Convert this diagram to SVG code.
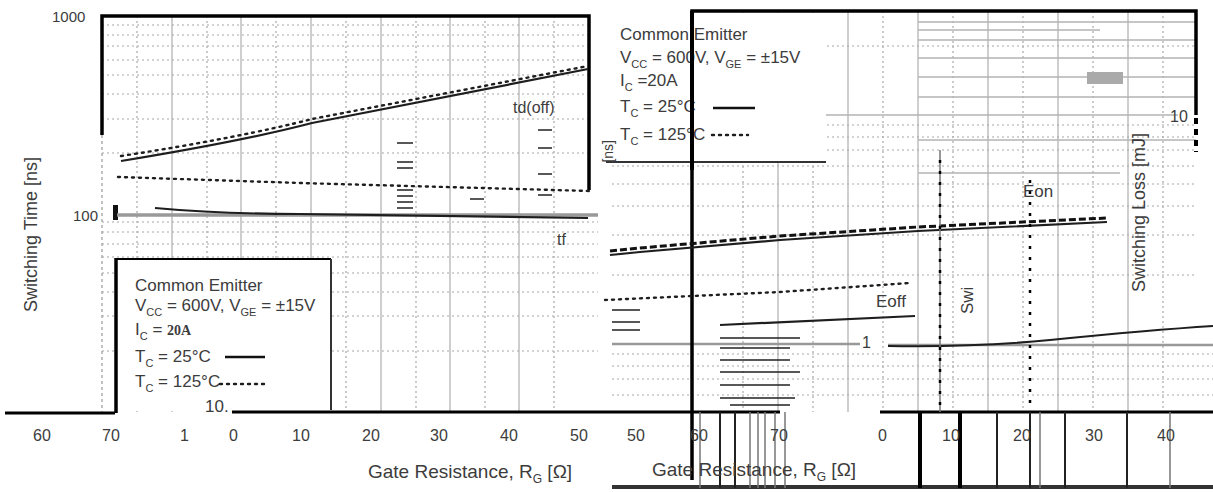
<svg xmlns="http://www.w3.org/2000/svg" width="1213" height="492" viewBox="0 0 1213 492">
<style>
.t{font-family:"Liberation Sans",Arial,sans-serif;fill:#3c3c3c}
.lg{font-size:17px}
.g{stroke:#b4b4b4;stroke-width:1.3;fill:none}
.gd{stroke:#a8a8a8;stroke-width:1.2;stroke-dasharray:2 3;fill:none}
.fr{stroke:#000;stroke-width:3.5;fill:none}
.cv{stroke:#1e1e1e;stroke-width:2.2;fill:none}
.dt{stroke:#1e1e1e;stroke-width:2.4;stroke-dasharray:2 5;stroke-linecap:round;fill:none}
.dsh{stroke:#111;stroke-width:3;stroke-dasharray:7 3;fill:none}
.nz{stroke:#222;stroke-width:1.5}
.gl{stroke:#777;stroke-width:1.5}
</style>
<rect width="1213" height="492" fill="#fff"/>

<!-- LEFT CHART GRID -->
<g id="left-grid">
<path class="g" d="M172 16V412M241 16V412M311 16V412M381 16V412M450 16V412M519 16V412"/>
<path class="gd" d="M137 16V412M207 16V412M276 16V412M346 16V412M416 16V412M485 16V412M554 16V412"/>
<path class="gd" d="M102 25H588M102 35H588M102 46H588M102 60H588M102 75H588M102 94H588M102 119H588M102 153H588M102 222H598M102 232H598M102 244H598M102 257H598M102 273H598M102 292H598M102 316H598M102 351H598"/>
<line x1="102" y1="135" x2="102" y2="412" stroke="#999" stroke-width="1.2" stroke-dasharray="3 3"/>
</g>

<!-- RIGHT CHART GRID -->
<g id="right-grid">
<path class="g" d="M778 11V412M848 11V412M918 11V412M988 11V412M1058 11V412M1128 11V412"/>
<path class="gd" d="M743 11V412M813 11V412M883 11V412M953 11V412M1023 11V412M1093 11V412M1163 11V412"/>
<path class="gd" d="M692 46H1196M692 125H1196M692 137H1196M692 150H1196M612 166H1196M612 184H1196M612 206H1196M612 235H1196M612 275H1196M612 354H1213M612 366H1213M612 379H1213M612 395H1213"/>
<path class="g" d="M918 22H1196M918 30H1100M918 40H1196M918 58H1196M918 77H1196M918 97H1196M826 115H1178M918 140H1196M918 173H1120"/>
<path stroke="#999" stroke-width="2.5" d="M612 344H860M888 345H1213"/>
<rect x="1087" y="72" width="36" height="12" fill="#aaa"/>
</g>

<!-- LEGEND BACKGROUNDS -->
<rect x="117" y="260" width="213" height="151" fill="#fff"/>
<rect x="606" y="13" width="220" height="148" fill="#fff"/>

<!-- FRAMES -->
<g id="frames">
<path class="fr" d="M102 135V16H589V190"/>
<path class="fr" d="M692 480V11H1196V115"/>
<path stroke="#000" stroke-width="4" stroke-dasharray="6 5" d="M1196 118V152"/>
<path stroke="#000" stroke-width="3" d="M5 413H115M232 412H780M880 412H1213"/>
<path stroke="#333" stroke-width="4" d="M612 487H1213"/>
<rect x="113" y="205" width="5" height="15" fill="#111"/>
</g>

<!-- CURVES -->
<g id="connectors">
<path class="cv" d="M121 161C200 148 270 134 312 123L588 69"/>
<path class="dt" d="M121 156C200 144 270 130 312 119L588 66"/>
<path class="dt" d="M118 177L300 183L590 191"/>
<path stroke="#999" stroke-width="3.5" d="M117 215H598"/>
<path class="cv" d="M155 208C200 212 260 214 300 214L588 218"/>
<path class="cv" stroke-width="2.8" d="M610 255L640 252L780 240L918 231L1107 222"/>
<path class="dsh" d="M610 251L640 248L780 236L918 227L1107 218"/>
<path class="dt" d="M605 300L780 292L910 283"/>
<path class="cv" d="M720 325L915 316"/>
<path class="cv" d="M888 346C950 347 1000 345 1050 340S1150 330 1213 326"/>
</g>

<!-- NOISE / GLITCH MARKS -->
<g id="marks">
<path class="nz" d="M397 143H413M397 162H413M397 168H413M397 190H413M397 196H413M397 202H413M397 208H413M538 130H552M538 148H552M538 174H552M538 195H552M470 199H484"/>
<path class="nz" d="M612 310H640M612 322H640M612 330H640M720 338H800M720 348H790M720 360H790M720 372H800M720 385H790M720 398H795M730 405H790"/>
<path stroke="#000" stroke-width="4" d="M960 412V488M920 412V488"/>
<path stroke="#222" stroke-width="2" d="M720 412V488M735 412V488M997 412V488M1065 412V488M1127 412V488M1030 412V488"/>
<path class="gl" d="M700 412V488M750 412V488M758 412V488M765 412V488M775 412V488M785 412V488M1040 412V488M1170 412V488M940 150V412"/>
<path stroke="#000" stroke-width="2.5" stroke-dasharray="3 8" d="M940 160V412M1030 180V412"/>
</g>

<!-- AXIS TEXTS LEFT -->
<g id="left-axis">
<text class="t" x="52" y="22" font-size="15">1000</text>
<text class="t" x="73" y="221" font-size="15">100</text>
<text class="t" font-size="16" y="441"><tspan x="33">60</tspan><tspan x="102">70</tspan><tspan x="180">1</tspan><tspan x="229">0</tspan><tspan x="292">10</tspan><tspan x="362">20</tspan><tspan x="430">30</tspan><tspan x="500">40</tspan><tspan x="570">50</tspan></text>
<text class="t" x="368" y="478" font-size="19">Gate Resistance, R<tspan font-size="12" dy="5">G</tspan><tspan dy="-5"> [Ω]</tspan></text>
<text class="t" font-size="18" transform="translate(37 312) rotate(-90)">Switching Time [ns]</text>
<text class="t" x="513" y="113" font-size="16">td(off)</text>
<text class="t" x="557" y="245" font-size="16">tf</text>
</g>

<!-- LEGEND LEFT -->
<g id="legend-left">
<path stroke="#000" stroke-width="3.5" d="M116 258V413"/>
<path stroke="#000" stroke-width="2" d="M116 259H331"/>
<path stroke="#333" stroke-width="2" d="M331 259V410"/>
<text class="t lg" x="135" y="291">Common Emitter</text>
<text class="t lg" x="135" y="311">V<tspan font-size="11" dy="5">CC</tspan><tspan dy="-5"> = 600V, V</tspan><tspan font-size="11" dy="5">GE</tspan><tspan dy="-5"> = ±15V</tspan></text>
<text class="t lg" x="135" y="335">I<tspan font-size="11" dy="5">C</tspan><tspan dy="-5"> = </tspan><tspan font-family="Liberation Serif" font-weight="bold" font-size="14">20A</tspan></text>
<text class="t lg" x="135" y="362">T<tspan font-size="11" dy="5">C</tspan><tspan dy="-5"> = 25°C</tspan></text>
<path stroke="#111" stroke-width="2.5" d="M225 357H265"/>
<text class="t lg" x="135" y="387">T<tspan font-size="11" dy="5">C</tspan><tspan dy="-5"> = 125°C</tspan></text>
<path class="dt" d="M220 384H268"/>
<text class="t lg" x="205" y="412">10.</text>
</g>

<!-- LEGEND RIGHT -->
<g id="legend-right">
<path stroke="#333" stroke-width="2" d="M606 162H826"/>
<text class="t lg" x="620" y="40">Common Emitter</text>
<text class="t lg" x="620" y="63">V<tspan font-size="11" dy="5">CC</tspan><tspan dy="-5"> = 600V, V</tspan><tspan font-size="11" dy="5">GE</tspan><tspan dy="-5"> = ±15V</tspan></text>
<text class="t lg" x="620" y="86">I<tspan font-size="11" dy="5">C</tspan><tspan dy="-5"> =20A</tspan></text>
<text class="t lg" x="620" y="112">T<tspan font-size="11" dy="5">C</tspan><tspan dy="-5"> = 25°C</tspan></text>
<path stroke="#111" stroke-width="2.5" d="M713 108H755"/>
<text class="t lg" x="620" y="140">T<tspan font-size="11" dy="5">C</tspan><tspan dy="-5"> = 125°C</tspan></text>
<path class="dt" d="M712 135H748"/>
<path stroke="#000" stroke-width="4" d="M692 11V170"/>
</g>

<!-- AXIS TEXTS RIGHT -->
<g id="right-axis">
<text class="t" x="1170" y="122" font-size="16">10</text>
<text class="t" x="862" y="348" font-size="16">1</text>
<text class="t" font-size="16" y="441"><tspan x="627">50</tspan><tspan x="690">60</tspan><tspan x="770">70</tspan><tspan x="878">0</tspan><tspan x="942">10</tspan><tspan x="1013">20</tspan><tspan x="1085">30</tspan><tspan x="1157">40</tspan></text>
<text class="t" x="652" y="476" font-size="19">Gate Resistance, R<tspan font-size="12" dy="5">G</tspan><tspan dy="-5"> [Ω]</tspan></text>
<text class="t" font-size="18" text-anchor="end" transform="translate(1145 133) rotate(-90)">Switching Loss [mJ]</text>
<text class="t" font-size="17" transform="translate(973 314) rotate(-90)">Swi</text>
<text class="t" font-size="14" text-anchor="end" transform="translate(613 140) rotate(-90)">[ns]</text>
<text class="t" x="876" y="307" font-size="17">Eoff</text>
<text class="t" x="1023" y="197" font-size="17">Eon</text>
</g>
</svg>
